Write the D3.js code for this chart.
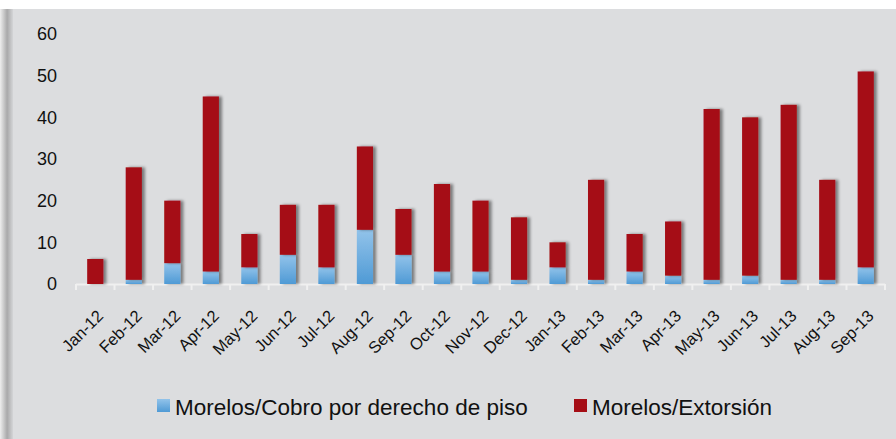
<!DOCTYPE html>
<html>
<head>
<meta charset="utf-8">
<script src="https://cdn.jsdelivr.net/npm/d3@7"></script>
<style>
  body { margin: 0; background: #fff; }
  text { font-family: "Liberation Sans", Arial, sans-serif; fill: #111; }
</style>
</head>
<body>
<div id="chart"></div>
<script>
const months = ["Jan-12","Feb-12","Mar-12","Apr-12","May-12","Jun-12","Jul-12","Aug-12","Sep-12","Oct-12","Nov-12","Dec-12",
                "Jan-13","Feb-13","Mar-13","Apr-13","May-13","Jun-13","Jul-13","Aug-13","Sep-13"];
const cobro = [0, 1, 5, 3, 4, 7, 4, 13, 7, 3, 3, 1, 4, 1, 3, 2, 1, 2, 1, 1, 4];
const extorsion = [6, 27, 15, 42, 8, 12, 15, 20, 11, 21, 17, 15, 6, 24, 9, 13, 41, 38, 42, 24, 47];
const yTicks = [0, 10, 20, 30, 40, 50, 60];
const seriesNames = ["Morelos/Cobro por derecho de piso", "Morelos/Extorsión"];

const width = 896, height = 439;

const svg = d3.select("#chart").append("svg")
    .attr("width", width)
    .attr("height", height);

const defs = svg.append("defs");

const blueGrad = defs.append("linearGradient").attr("id", "blueGrad")
    .attr("x1", 0).attr("y1", 0).attr("x2", 0).attr("y2", 1);
blueGrad.append("stop").attr("offset", "0%").attr("stop-color", "#92c3ea");
blueGrad.append("stop").attr("offset", "100%").attr("stop-color", "#4f9ad5");

const sideGrad = defs.append("linearGradient").attr("id", "sideGrad")
    .attr("x1", 0).attr("y1", 0).attr("x2", 1).attr("y2", 0);
sideGrad.append("stop").attr("offset", "0%").attr("stop-color", "#eeeeee");
sideGrad.append("stop").attr("offset", "55%").attr("stop-color", "#a9a9aa");
sideGrad.append("stop").attr("offset", "100%").attr("stop-color", "#d4d5d7");

const shadow = defs.append("filter").attr("id", "shadow")
    .attr("x", "-30%").attr("y", "-10%").attr("width", "180%").attr("height", "120%");
shadow.append("feDropShadow")
    .attr("dx", 3).attr("dy", 0).attr("stdDeviation", 1.8)
    .attr("flood-color", "#000").attr("flood-opacity", 0.45);

// background panel
svg.append("rect").attr("x", 12).attr("y", 9).attr("width", width - 12).attr("height", height - 9)
    .attr("fill", "#dcdddf");
svg.append("rect").attr("x", 0).attr("y", 9).attr("width", 13).attr("height", height - 9)
    .attr("fill", "url(#sideGrad)");

const x = d3.scaleBand().domain(months).range([76, 885]).paddingInner(0.58).paddingOuter(0.29);
const y = d3.scaleLinear().domain([0, 60]).range([284, 34]);

const data = months.map((m, i) => ({ month: m, cobro: cobro[i], extorsion: extorsion[i] }));
const stacked = d3.stack().keys(["cobro", "extorsion"])(data);
const fills = ["url(#blueGrad)", "#a50d15"];

// y labels
svg.append("g").selectAll("text").data(yTicks).join("text")
    .attr("x", 57).attr("y", d => y(d)).attr("dy", "0.35em")
    .attr("text-anchor", "end").style("font-size", "18px")
    .text(d => d);

// axis line with tick marks
const step = x.step();
const axisG = svg.append("g");
axisG.append("line").attr("x1", 76).attr("x2", 885).attr("y1", 284.5).attr("y2", 284.5)
    .attr("stroke", "#f0f0f0").attr("stroke-width", 2);
axisG.selectAll(".tk").data(d3.range(months.length + 1)).join("line")
    .attr("x1", d => 76 + d * step).attr("x2", d => 76 + d * step)
    .attr("y1", 284).attr("y2", 290)
    .attr("stroke", "#f0f0f0").attr("stroke-width", 2);

// bars
svg.append("g").selectAll("g").data(stacked).join("g")
    .attr("fill", (d, i) => fills[i])
    .attr("filter", "url(#shadow)")
    .selectAll("rect").data(d => d).join("rect")
    .attr("x", d => x(d.data.month))
    .attr("width", x.bandwidth())
    .attr("y", d => y(d[1]))
    .attr("height", d => y(d[0]) - y(d[1]));

// x labels
svg.append("g").selectAll("text").data(months).join("text")
    .attr("transform", d => `translate(${x(d) + x.bandwidth() / 2 + 5},${313}) rotate(-45)`)
    .attr("text-anchor", "end").attr("dy", "0.35em")
    .style("font-size", "16.5px")
    .text(d => d);

// legend
const legend = svg.append("g");
const legendItems = [
    { name: seriesNames[0], fill: "url(#blueGrad)", x: 157 },
    { name: seriesNames[1], fill: "#a50d15", x: 574 }
];
legendItems.forEach(it => {
    legend.append("rect").attr("x", it.x).attr("y", 399).attr("width", 13).attr("height", 13)
        .attr("fill", it.fill);
    legend.append("text").attr("x", it.x + 18).attr("y", 415)
        .style("font-size", "22.5px").text(it.name);
});
</script>
</body>
</html>
